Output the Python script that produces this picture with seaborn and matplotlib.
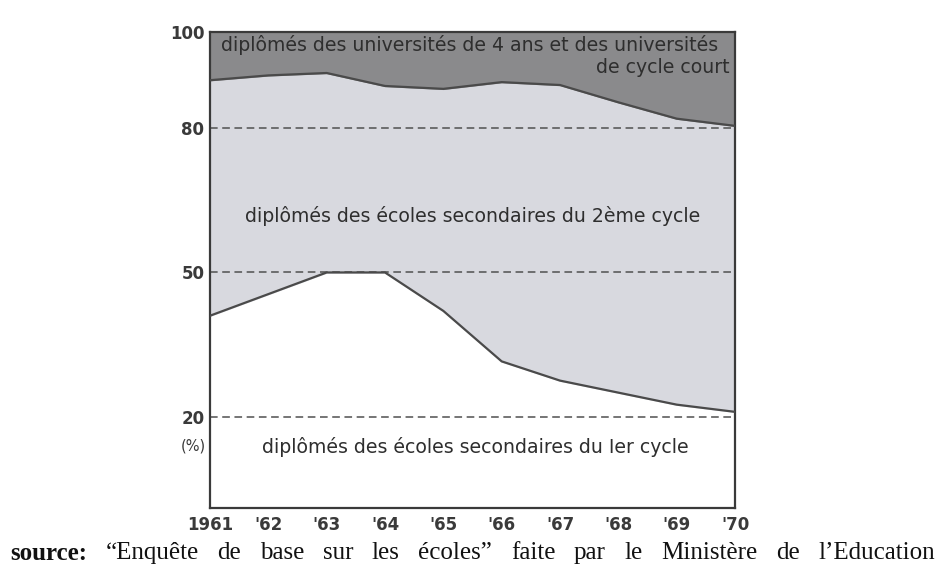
import numpy as np
import pandas as pd
import matplotlib
matplotlib.use("Agg")
import matplotlib.pyplot as plt
import seaborn as sns

# Data (shares in %)
years = [1961, 1962, 1963, 1964, 1965, 1966, 1967, 1968, 1969, 1970]
year_labels = ["1961", "'62", "'63", "'64", "'65", "'66", "'67", "'68", "'69", "'70"]
first_cycle = [41.0, 45.5, 50.0, 50.0, 42.0, 31.5, 27.5, 25.0, 22.5, 21.0]
second_cycle = [49.0, 45.5, 41.5, 38.8, 46.2, 58.1, 61.5, 60.4, 59.5, 59.5]
university = [10.0, 9.0, 8.5, 11.2, 11.8, 10.4, 11.0, 14.6, 18.0, 19.5]
y_ticks = [20, 50, 80, 100]

df = pd.DataFrame({
    "year": years,
    "first": first_cycle,
    "second": second_cycle,
    "univ": university,
})
df["low"] = df["first"]
df["mid"] = df["first"] + df["second"]
df["top"] = df["mid"] + df["univ"]

sns.set_style("white")
plt.rcParams["font.family"] = ["DejaVu Sans"]

fig = plt.figure(figsize=(9.46, 5.74), dpi=100)
ax = fig.add_axes([0.222, 0.115, 0.555, 0.829])

ink = "#3a3a3a"
ax.fill_between(df["year"], 0, df["low"], color="white", zorder=1)
ax.fill_between(df["year"], df["low"], df["mid"], color="#d8d9df", zorder=1)
ax.fill_between(df["year"], df["mid"], df["top"], color="#8a8a8c", zorder=1)

sns.lineplot(data=df, x="year", y="low", color="#4a4a4a", linewidth=1.6, ax=ax, zorder=3)
sns.lineplot(data=df, x="year", y="mid", color="#4a4a4a", linewidth=1.6, ax=ax, zorder=3)

for yv in [20, 50, 80]:
    ax.axhline(yv, color="#505050", linestyle=(0, (5, 3)), linewidth=1.1, zorder=2)

ax.set_xlim(1961, 1970)
ax.set_ylim(1, 99.5)
ax.set_xticks(years)
ax.set_xticklabels(year_labels, fontsize=12, fontweight="bold", color=ink)
ax.set_yticks(y_ticks)
ax.set_yticklabels([str(v) for v in y_ticks], fontsize=12, fontweight="bold", color=ink)
ax.tick_params(axis="x", direction="in", length=4, width=1.2, color=ink, pad=6)
ax.tick_params(axis="y", direction="out", length=0, pad=4)
ax.set_xlabel("")
ax.set_ylabel("")
for s in ax.spines.values():
    s.set_visible(True)
    s.set_color(ink)
    s.set_linewidth(1.6)

ax.text(1960.93, 14, "(%)", ha="right", va="center", fontsize=10.5, color=ink)

txt = dict(fontsize=13.6, color="#2e2e2e", zorder=4)
ax.text(1961.18, 97.4, "diplômés des universités de 4 ans et des universités",
        ha="left", va="center", **txt)
ax.text(1969.9, 92.6, "de cycle court", ha="right", va="center", **txt)
ax.text(1965.5, 61.7, "diplômés des écoles secondaires du 2ème cycle",
        ha="center", va="center", **txt)
ax.text(1965.55, 13.6, "diplômés des écoles secondaires du Ier cycle",
        ha="center", va="center", **txt)

# source line, justified across the page width
caption_words = ["source:", "\u201cEnquête", "de", "base", "sur", "les", "écoles\u201d",
                 "faite", "par", "le", "Ministère", "de", "l\u2019Education"]
x_left, x_right, y_cap = 10, 935, 574 - 553
renderer = fig.canvas.get_renderer()
items = []
for i, w in enumerate(caption_words):
    t = fig.text(0, y_cap / 574, w, ha="left", va="center", fontsize=18,
                 family="Liberation Serif", color="#111111",
                 fontweight="bold" if i == 0 else "normal")
    items.append((t, t.get_window_extent(renderer).width))
gap = (x_right - x_left - sum(wd for _, wd in items)) / (len(items) - 1)
x = x_left
for t, wd in items:
    t.set_x(x / 946)
    x += wd + gap

fig.savefig("out.png", dpi=100, facecolor="white")
